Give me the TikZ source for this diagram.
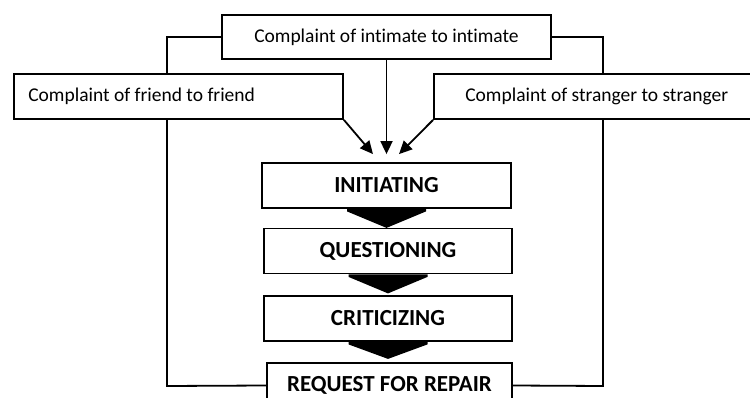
\documentclass[tikz,border=0pt]{standalone}
\usepackage{fontspec}
\setmainfont{Carlito}[Ligatures={NoCommon}]
\usetikzlibrary{arrows.meta}
\begin{document}
\begin{tikzpicture}[x=1pt,y=-1pt,
  box/.style={draw, rectangle, line width=1.8pt, fill=white, inner sep=0pt},
  sub/.style={font=\fontsize{19.5}{23}\selectfont, inner sep=0pt},
  stage/.style={box, font=\bfseries\fontsize{23}{26}\selectfont, minimum width=248pt, minimum height=45pt},
  link/.style={line width=1.8pt, -{Triangle[length=13pt,width=12pt]}},
  loopline/.style={line width=1.8pt},
  chev/.style={fill=black}]
\useasboundingbox (0,0) rectangle (750,398);

% top source box
\node[box, minimum width=329pt, minimum height=44pt, sub] (top) at (386.5,37) {Complaint of intimate to intimate};

% stage boxes
\node[stage, minimum width=249pt] (init) at (386.5,185.5) {INITIATING};
\node[stage] (quest) at (388,251) {QUESTIONING};
\node[stage] (crit) at (388,318.5) {CRITICIZING};
\node[stage, minimum width=245pt] (req) at (389.5,385.5) {REQUEST FOR REPAIR};

% feedback loop from the intimate box round to the last stage
\coordinate (lupL) at (167,37);
\coordinate (ldnL) at (167,386);
\coordinate (lupR) at (603,37);
\coordinate (ldnR) at (603,386);
\draw[loopline] (top.west) -- (lupL) -- (ldnL) -- (req.west);
\draw[loopline] (top.east) -- (lupR) -- (ldnR) -- (req.east);

% side source boxes, drawn over the loop
\node[box, minimum width=329pt, minimum height=45pt] (lf) at (178.5,96.5) {};
\node[sub, anchor=west] (lfT) at ([xshift=15pt]lf.west) {Complaint of friend to friend};
\node[box, minimum width=336pt, minimum height=45pt] (rt) at (602,96.5) {};
\node[sub, anchor=west] (rtT) at ([xshift=32pt]rt.west) {Complaint of stranger to stranger};

% arrows into the first stage
\coordinate (aimL) at ([xshift=-13.5pt,yshift=8pt]init.north);
\coordinate (aimC) at ([yshift=8pt]init.north);
\coordinate (aimR) at ([xshift=12.5pt,yshift=8pt]init.north);
\draw[link] (lf.south east) -- (aimL);
\draw[link] (top.south) -- (aimC);
\draw[link] (rt.south west) -- (aimR);

% chevrons between stages
\foreach \s/\h in {init/19, quest/19, crit/17}{
  \fill[chev] ([xshift=-39.5pt]\s.south) -- ([xshift=39.5pt]\s.south)
    -- ([xshift=39.5pt,yshift=-2.5pt]\s.south) -- ([yshift=-\h pt]\s.south)
    -- ([xshift=-39.5pt,yshift=-2.5pt]\s.south) -- cycle;
}
\end{tikzpicture}
\end{document}
